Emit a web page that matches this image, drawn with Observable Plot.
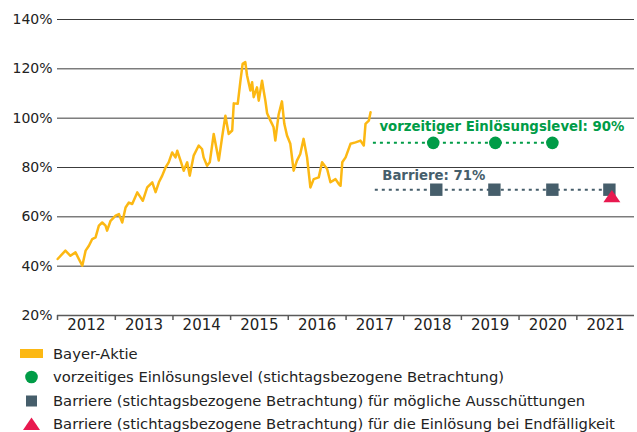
<!DOCTYPE html>
<html>
<head>
<meta charset="utf-8">
<script src="https://cdn.jsdelivr.net/npm/d3@7"></script>
<script src="https://cdn.jsdelivr.net/npm/@observablehq/plot@0.6"></script>
<style>
  html, body { margin: 0; padding: 0; background: #fff; }
  #wrap { width: 637px; position: relative; }
  #legend { position: relative; width: 637px; height: 92px; font-family: "DejaVu Sans", sans-serif; font-size: 14.75px; color: #222; }
  .row { position: absolute; left: 0; height: 20px; width: 637px; }
  .row svg { position: absolute; left: 18px; top: 0; }
  .row span { position: absolute; left: 53px; top: 0; line-height: 20px; white-space: nowrap; }
</style>
</head>
<body>
<div id="wrap"></div>
<script>
// ---- data ----
const stockDates = [
  "2012-01-02","2012-02-20","2012-03-23","2012-04-24","2012-05-15","2012-06-06","2012-06-27","2012-07-18",
  "2012-08-08","2012-08-29","2012-09-19","2012-10-10","2012-10-31","2012-11-10","2012-12-02","2013-01-03",
  "2013-01-24","2013-02-14","2013-03-07","2013-03-28","2013-04-18","2013-05-20","2013-06-10","2013-06-24",
  "2013-07-22","2013-08-12","2013-08-23","2013-09-13","2013-10-04","2013-10-25","2013-11-15","2013-12-05",
  "2013-12-27","2014-01-17","2014-01-28","2014-02-18","2014-03-10","2014-04-01","2014-04-17","2014-05-12",
  "2014-06-13","2014-07-04","2014-07-14","2014-08-05","2014-08-22","2014-09-16","2014-10-18","2014-11-08",
  "2014-11-29","2014-12-20","2015-01-11","2015-01-21","2015-02-15","2015-03-04","2015-03-18","2015-04-04",
  "2015-04-15","2015-05-06","2015-05-17","2015-05-27","2015-06-17","2015-06-28","2015-07-19","2015-07-29",
  "2015-08-09","2015-08-20","2015-09-10","2015-09-20","2015-09-30","2015-10-11","2015-11-01","2015-11-22",
  "2015-12-07","2015-12-24","2016-01-14","2016-02-04","2016-02-25","2016-03-17","2016-04-07","2016-04-29",
  "2016-05-20","2016-06-10","2016-07-12","2016-08-02","2016-09-03","2016-09-24","2016-10-26","2016-11-16",
  "2016-11-27","2016-12-08","2016-12-29","2017-01-29","2017-03-02","2017-04-02","2017-04-23","2017-05-04",
  "2017-05-25","2017-06-05"
];
const stockValues = [
  42.9, 46.3, 44.2, 45.6, 42.9, 40.2, 46.3, 48.3,
  51.0, 51.7, 56.4, 57.7, 56.4, 54.4, 58.4, 60.5,
  61.1, 57.7, 63.8, 65.8, 65.2, 69.9, 67.9, 66.5,
  71.9, 73.3, 74.0, 70.0, 74.0, 76.7, 80.0, 82.1,
  86.1, 84.1, 86.8, 82.8, 78.7, 82.1, 76.7, 84.8,
  88.9, 87.5, 84.1, 80.7, 82.1, 93.6, 82.8, 92.2,
  101.0, 93.6, 95.0, 106.0, 105.8, 115.0, 122.0, 122.7,
  117.3, 111.2, 114.6, 108.5, 112.5, 107.1, 115.2, 111.2,
  107.1, 102.0, 99.0, 97.7, 96.3, 90.9, 101.5, 106.8,
  97.7, 93.0, 89.6, 78.7, 82.8, 85.5, 91.6, 84.1,
  71.9, 75.3, 76.0, 82.1, 79.4, 74.0, 75.3, 73.3,
  72.6, 82.1, 84.1, 89.6, 90.2, 90.9, 88.9, 97.7,
  99.0, 102.4
];

const callDates = ["2018-07-07", "2019-08-04", "2020-07-30"];   // vorzeitiges Einlösungslevel
const callLevel = 90;
const barrierDates = ["2018-07-26", "2019-07-29", "2020-07-30", "2021-07-26"]; // Barriere Ausschüttungen
const barrierLevel = 71;
const finalDates = ["2021-07-26"];                                // Barriere Endfälligkeit
const finalLevel = 71;

const callLineStart = "2017-06-23";
const barrierLineStart = "2017-07-05";

const yTicks = [20, 40, 60, 80, 100, 120, 140];
const gridTicks = [40, 60, 80, 100, 120, 140];
const years = [2012, 2013, 2014, 2015, 2016, 2017, 2018, 2019, 2020, 2021];

const callLabel = "vorzeitiger Einlösungslevel: 90%";
const barrierLabel = "Barriere: 71%";

const legendItems = [
  "Bayer-Aktie",
  "vorzeitiges Einlösungslevel (stichtagsbezogene Betrachtung)",
  "Barriere (stichtagsbezogene Betrachtung) für mögliche Ausschüttungen",
  "Barriere (stichtagsbezogene Betrachtung) für die Einlösung bei Endfälligkeit"
];

// ---- colours ----
const cStock = "#fcb813";
const cGreen = "#009c47";
const cSlate = "#465e6b";
const cRed = "#e8194f";

// ---- tables ----
const stock = stockDates.map((d, i) => ({date: new Date(d), value: stockValues[i]}));
const calls = callDates.map(d => ({date: new Date(d), value: callLevel}));
const barriers = barrierDates.map(d => ({date: new Date(d), value: barrierLevel}));
const finals = finalDates.map(d => ({date: new Date(d), value: finalLevel}));
const yearStarts = years.map(y => new Date(Date.UTC(y, 0, 1)));
const yearMids = years.map(y => ({date: new Date(Date.UTC(y, 6, 2)), label: String(y)}));

const flatTriangle = {
  draw(context) {
    const w = 8.5, h = 12.4;
    context.moveTo(0, -h * 0.55);
    context.lineTo(w, h * 0.45);
    context.lineTo(-w, h * 0.45);
    context.closePath();
  }
};

const chart = Plot.plot({
  width: 637,
  height: 340,
  marginTop: 19,
  marginBottom: 25,
  marginLeft: 57,
  marginRight: 3,
  x: {type: "utc", domain: [new Date(Date.UTC(2012, 0, 1)), new Date(Date.UTC(2022, 0, 1))], axis: null},
  y: {domain: [20, 140], axis: null},
  style: {fontFamily: "DejaVu Sans, sans-serif", fontSize: "14px", color: "#222", background: "#fff", overflow: "visible"},
  marks: [
    Plot.gridY(gridTicks, {stroke: "#3c3c3c", strokeOpacity: 1, strokeWidth: 1}),
    Plot.axisY(yTicks, {tickSize: 0, tickPadding: 5, tickFormat: d => d + "%", fontSize: 14, fill: "#222", label: null}),
    Plot.ruleY([20], {stroke: "#5a5a5a", strokeWidth: 1.5}),
    Plot.axisX(yearStarts, {tickSize: 5, tickFormat: () => "", stroke: "#5a5a5a", strokeWidth: 1.5, label: null}),
    Plot.text(yearMids, {x: "date", text: "label", frameAnchor: "bottom", dy: 14, fontSize: 15, fill: "#222"}),
    Plot.lineY(stock, {x: "date", y: "value", stroke: cStock, strokeWidth: 2.5, strokeLinejoin: "round"}),
    Plot.ruleY([callLevel], {x1: new Date(callLineStart), x2: new Date(callDates[callDates.length - 1]), stroke: cGreen, strokeWidth: 2, strokeDasharray: "3,4"}),
    Plot.ruleY([barrierLevel], {x1: new Date(barrierLineStart), x2: new Date(barrierDates[barrierDates.length - 1]), stroke: cSlate, strokeWidth: 2, strokeDasharray: "3,4"}),
    Plot.dot(calls, {x: "date", y: "value", r: 6.3, fill: cGreen, symbol: "circle"}),
    Plot.dot(barriers, {x: "date", y: "value", r: 7, fill: cSlate, symbol: "square"}),
    Plot.dot(finals, {x: "date", y: "value", fill: cRed, symbol: flatTriangle, dx: 2.5, dy: 7}),
    Plot.text([callLabel], {x: new Date("2017-07-31"), y: callLevel, text: d => d, dy: -16, textAnchor: "start", fontWeight: "bold", fontSize: 13.3, fill: cGreen}),
    Plot.text([barrierLabel], {x: new Date("2017-08-18"), y: barrierLevel, text: d => d, dy: -13.5, textAnchor: "start", fontWeight: "bold", fontSize: 13.3, fill: cSlate})
  ]
});

const wrap = document.getElementById("wrap");
wrap.appendChild(chart);

// ---- legend (below the SVG) ----
const legend = document.createElement("div");
legend.id = "legend";
const rowTops = [4, 27, 51, 74];
const swatches = [
  `<rect x="2" y="5" width="23" height="9" fill="${cStock}"/>`,
  `<circle cx="13.5" cy="10" r="6.3" fill="${cGreen}"/>`,
  `<rect x="8" y="4.5" width="11" height="11" fill="${cSlate}"/>`,
  `<path d="M13.5,3.5 L22,16 L5,16 Z" fill="${cRed}"/>`
];
legendItems.forEach((t, i) => {
  const row = document.createElement("div");
  row.className = "row";
  row.style.top = rowTops[i] + "px";
  row.innerHTML = `<svg width="30" height="20">${swatches[i]}</svg><span>${t}</span>`;
  legend.appendChild(row);
});
wrap.appendChild(legend);
</script>
</body>
</html>
